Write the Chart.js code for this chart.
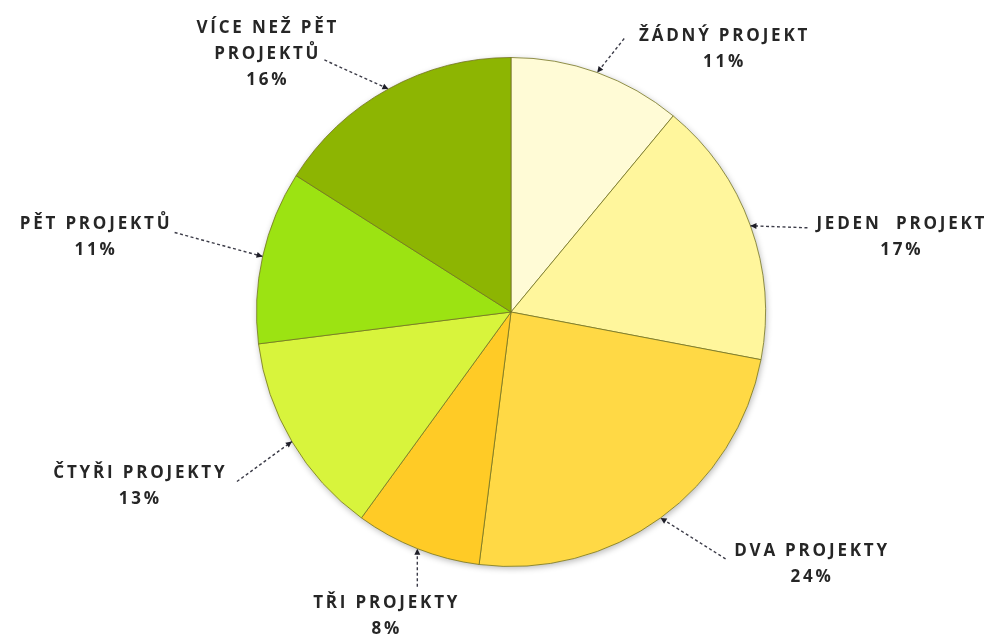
<!DOCTYPE html>
<html lang="cs">
<head>
<meta charset="utf-8">
<title>Počet projektů</title>
<script src="https://cdn.jsdelivr.net/npm/chart.js@4/dist/chart.umd.min.js"></script>
<style>
  html, body { margin: 0; padding: 0; background: #ffffff; }
  #wrap { width: 986px; height: 643px; }
</style>
</head>
<body>
<div id="wrap"><canvas id="chart" width="986" height="643"></canvas></div>
<script>
// Categories (one entry per slice, split into display lines)
const categories = [
  ['ŽÁDNÝ PROJEKT'],
  ['JEDEN  PROJEKT'],
  ['DVA PROJEKTY'],
  ['TŘI PROJEKTY'],
  ['ČTYŘI PROJEKTY'],
  ['PĚT PROJEKTŮ'],
  ['VÍCE NEŽ PĚT', 'PROJEKTŮ']
];

// Share of respondents, in percent
const shares = [11, 17, 24, 8, 13, 11, 16];

// Slice fill colours
const sliceColors = [
  '#FFFBD6',
  '#FFF69C',
  '#FFD945',
  '#FFCB26',
  '#D8F43C',
  '#9CE312',
  '#8DB502'
];

// Callout placement relative to the point where the leader meets the rim:
// t = centre of first text line, l = free end of the dashed leader
const calloutPlacement = [
  { tx: 126,  ty: -36, lx: 27,  ly: -34 },
  { tx: 150,  ty: -2,  lx: 57,  ly: 2 },
  { tx: 150,  ty: 33,  lx: 65,  ly: 41 },
  { tx: -32,  ty: 55,  lx: 0,   ly: 38 },
  { tx: -153, ty: 32,  lx: -55, ly: 40 },
  { tx: -168, ty: -32, lx: -88, ly: -24 },
  { tx: -122, ty: -61, lx: -64, ly: -29 }
];

const LINE_GAP = 26;
const LETTER_SPACING = 2.8;

// Soft drop shadow under the whole pie
const pieShadow = {
  id: 'pieShadow',
  beforeDatasetsDraw(chart) {
    const arc = chart.getDatasetMeta(0).data[0];
    if (!arc) return;
    const { x, y, outerRadius } = arc.getProps(['x', 'y', 'outerRadius'], true);
    const ctx = chart.ctx;
    ctx.save();
    ctx.shadowColor = 'rgba(0,0,0,0.28)';
    ctx.shadowBlur = 6;
    ctx.shadowOffsetX = 1;
    ctx.shadowOffsetY = 2;
    ctx.fillStyle = '#ffffff';
    ctx.beginPath();
    ctx.arc(x, y, outerRadius, 0, Math.PI * 2);
    ctx.fill();
    ctx.restore();
  }
};

// Outside labels with dashed leader lines ending in a small arrowhead
const callouts = {
  id: 'callouts',
  afterDatasetsDraw(chart) {
    const ctx = chart.ctx;
    const meta = chart.getDatasetMeta(0);
    meta.data.forEach((arc, i) => {
      const p = arc.getProps(['x', 'y', 'startAngle', 'endAngle', 'outerRadius'], true);
      const mid = (p.startAngle + p.endAngle) / 2;
      const px = p.x + Math.cos(mid) * p.outerRadius;
      const py = p.y + Math.sin(mid) * p.outerRadius;
      const place = calloutPlacement[i];
      const ex = px + place.lx, ey = py + place.ly;

      // dashed leader
      ctx.save();
      ctx.strokeStyle = '#3c3c48';
      ctx.lineWidth = 1.4;
      ctx.setLineDash([3, 2.5]);
      ctx.beginPath();
      ctx.moveTo(ex, ey);
      ctx.lineTo(px, py);
      ctx.stroke();
      ctx.setLineDash([]);

      // arrowhead at the rim
      const ang = Math.atan2(py - ey, px - ex);
      const len = 6, half = 3;
      ctx.fillStyle = '#1e1e28';
      ctx.beginPath();
      ctx.moveTo(px, py);
      ctx.lineTo(px - len * Math.cos(ang) + half * Math.sin(ang), py - len * Math.sin(ang) - half * Math.cos(ang));
      ctx.lineTo(px - len * Math.cos(ang) - half * Math.sin(ang), py - len * Math.sin(ang) + half * Math.cos(ang));
      ctx.closePath();
      ctx.fill();

      // label text
      ctx.font = 'bold 17px "Open Sans", "DejaVu Sans", sans-serif';
      ctx.letterSpacing = LETTER_SPACING + 'px';
      ctx.fillStyle = '#262626';
      ctx.textAlign = 'center';
      ctx.textBaseline = 'middle';
      const lines = categories[i].concat([shares[i] + '%']);
      lines.forEach((t, k) => {
        ctx.fillText(t, px + place.tx + LETTER_SPACING / 2, py + place.ty + k * LINE_GAP);
      });
      ctx.restore();
    });
  }
};

new Chart(document.getElementById('chart'), {
  type: 'pie',
  data: {
    labels: categories.map(l => l.join(' ')),
    datasets: [{
      data: shares,
      backgroundColor: sliceColors,
      borderColor: 'rgba(115,115,35,0.8)',
      borderWidth: 1
    }]
  },
  options: {
    responsive: false,
    animation: false,
    layout: { padding: { top: 57, bottom: 76, left: 36, right: 0 } },
    plugins: {
      legend: { display: false },
      tooltip: { enabled: false }
    }
  },
  plugins: [pieShadow, callouts]
});
</script>
</body>
</html>
